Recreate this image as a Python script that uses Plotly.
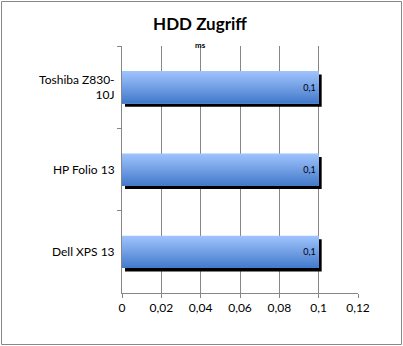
import plotly.graph_objects as go

categories = ["Toshiba Z830-<br>10J", "HP Folio 13", "Dell XPS 13"]
values = [0.1, 0.1, 0.1]
x_ticks = [0, 0.02, 0.04, 0.06, 0.08, 0.1, 0.12]
x_tick_labels = ["0", "0,02", "0,04", "0,06", "0,08", "0,1", "0,12"]
title_text = "HDD Zugriff"
unit_text = "ms"

W, H = 403, 346
L, R, T, B = 122, 45, 46, 53
pw, ph = W - L - R, H - T - B

bar_w = 0.39
shadow_dy = 3.5 / (ph / 3)
shadow_dx = 3 * 0.12 / pw

def lerp(c1, c2, t):
    return "rgb(%d,%d,%d)" % tuple(round(a + (b - a) * t) for a, b in zip(c1, c2))

top_c = (158, 194, 252)
bot_c = (70, 124, 204)

fig = go.Figure()

# shadow
fig.add_trace(go.Bar(
    y=categories, x=values, orientation="h", base=shadow_dx,
    width=bar_w, offset=-bar_w / 2 + shadow_dy,
    marker=dict(color="black", line=dict(width=0)),
    hoverinfo="skip", showlegend=False))

n = 24
for i in range(n):
    t = i / (n - 1)
    fig.add_trace(go.Bar(
        y=categories, x=values, orientation="h",
        width=bar_w - i * bar_w / n, offset=-bar_w / 2 + i * bar_w / n,
        marker=dict(color=lerp(top_c, bot_c, t), line=dict(width=0)),
        hoverinfo="skip", showlegend=False))

# labels
fig.add_trace(go.Bar(
    y=categories, x=values, orientation="h",
    width=bar_w, offset=-bar_w / 2,
    marker=dict(color="rgba(0,0,0,0)", line=dict(width=0)),
    text=[str(v).replace(".", ",") for v in values],
    textposition="inside", insidetextanchor="end",
    textfont=dict(family="Lato", size=9, color="black"),
    hoverinfo="skip", showlegend=False))

fig.update_layout(
    width=W, height=H, barmode="overlay",
    margin=dict(l=L, r=R, t=T, b=B),
    paper_bgcolor="white", plot_bgcolor="white",
    font=dict(family="Lato", color="black"),
    title=dict(text="<b>" + title_text + "</b>", x=200 / W, xanchor="center",
               y=1 - 24 / H, yanchor="middle", font=dict(size=17, family="Lato")),
    xaxis=dict(range=[0, 0.12], tickvals=x_ticks, ticktext=x_tick_labels,
               showgrid=True, gridcolor="#868686", gridwidth=1,
               showline=True, linecolor="#868686", linewidth=1,
               ticks="outside", ticklen=4, tickcolor="#868686",
               tickfont=dict(size=12, family="Lato"), zeroline=False,
               fixedrange=True),
    yaxis=dict(autorange="reversed", showline=True, linecolor="#868686", linewidth=1,
               ticks="outside", ticklen=4, tickcolor="#868686", tickson="boundaries",
               tickfont=dict(size=12, family="Lato"), showgrid=False, ticklabelstandoff=4),
    annotations=[dict(text="<b>" + unit_text + "</b>", xref="paper", yref="paper",
                      x=(200 - L) / pw, y=1 + 1 / ph, xanchor="center", yanchor="middle",
                      showarrow=False, font=dict(size=8, family="Lato"))],
    shapes=[dict(type="rect", xref="paper", yref="paper",
                 x0=-(L - 1.5) / pw, x1=(401.5 - L) / pw,
                 y0=-(B - 1.5) / ph, y1=(H - B - 1.5) / ph,
                 line=dict(color="#888888", width=1))],
)

fig.write_html("out.html")
